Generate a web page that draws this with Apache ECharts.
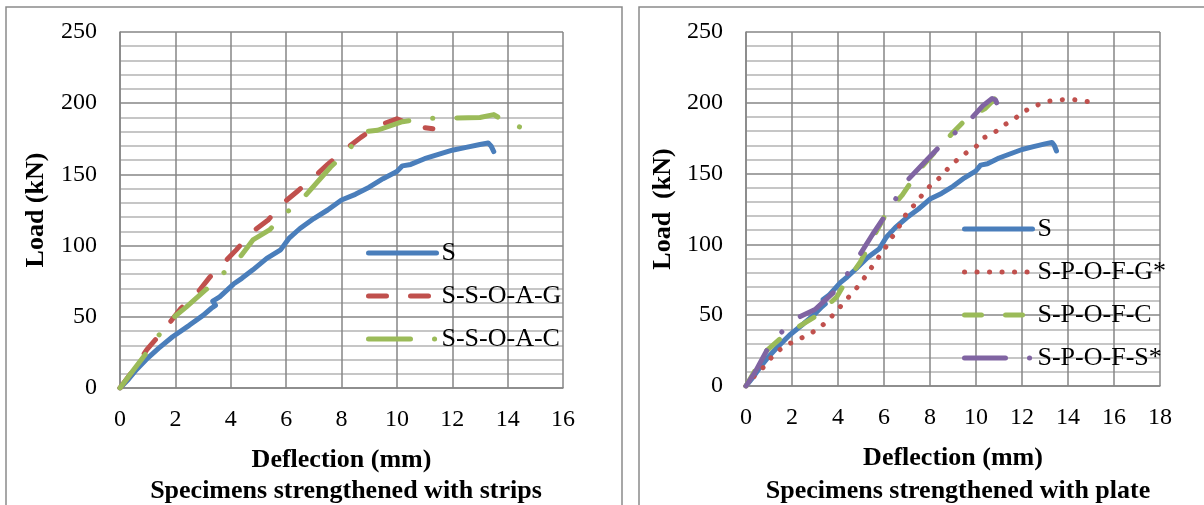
<!DOCTYPE html>
<html>
<head>
<meta charset="utf-8">
<script src="https://cdn.jsdelivr.net/npm/echarts@6/dist/echarts.min.js"></script>
<style>
  html, body { margin: 0; padding: 0; background: #fff; }
  #chart { width: 1204px; height: 505px; }
</style>
</head>
<body>
<div id="chart"></div>
<script>
// deflection (mm), load (kN) pairs
const S = [[0,0],[0.3,6],[0.6,13],[1,21],[1.4,28],[1.9,36],[2.5,44],[3,51],[3.3,56],[3.45,58],[3.35,61],[3.6,64],[4.1,73],[4.4,77],[4.8,83],[5.3,91],[5.8,97],[6.1,105],[6.5,112],[7,119],[7.5,125],[8,132],[8.5,136],[9,141],[9.5,147],[10,152],[10.2,156],[10.5,157],[11,161],[11.5,164],[12,167],[12.5,169],[13,171],[13.3,172],[13.4,170],[13.5,166]];
const SSOAG = [[0,0],[0.5,13],[0.97,27],[1.33,35],[1.8,46],[2.2,56],[2.8,67],[3.25,78],[3.85,90],[4.2,97],[4.8,110],[5.35,118],[5.9,130],[6.4,138],[7,148],[7.5,157],[8.1,167],[8.7,176],[9.3,184],[10,189],[10.6,184],[11.3,182]];
const SSOAC = [[0,0],[0.5,13],[0.97,25],[1.4,37],[1.9,49],[2.4,57],[3.1,69],[3.7,80],[4.3,91],[4.8,104],[5.4,111],[6,123],[6.6,133],[7.6,155],[8.2,166],[8.8,180],[9.3,181],[10.2,187],[11.1,189.5],[11.9,189.5],[13,190],[13.5,192],[14.1,185],[14.9,181],[15.05,178]];
const SPOFG = [[0,0],[0.3,6],[0.74,13],[1.1,20],[1.4,25],[1.9,30],[2.3,33],[2.8,37],[3.2,41],[3.6,47],[3.95,53],[4.3,60],[4.65,66],[5,73],[5.3,80],[5.6,87],[5.9,94],[6.2,101],[6.5,109],[6.8,116],[7,123],[7.4,129],[7.7,136],[8.1,143],[8.5,148],[8.8,154],[9.2,160],[9.6,165],[10,169],[10.3,175],[10.8,179],[11.2,184],[11.7,189],[12.1,194],[12.6,198],[13.1,201],[13.6,202],[14.1,202.5],[14.6,201.5],[15.2,200]];
const SPOFC = [[0,0],[0.9,25],[1.6,35],[2.4,43],[3.1,50],[3.95,63],[4.2,70],[4.95,87],[5.5,104],[6.1,122],[6.8,135],[7.5,152],[8.3,167],[9,179],[9.6,189],[10.4,196],[11,206],[11.7,206]];
const SPOFS = [[0,0],[0.4,10],[0.9,25],[1.6,39],[2.35,49],[3,54],[3.8,66],[4.4,79],[5,94],[5.5,107],[6,119],[6.5,132],[7,145],[7.7,157],[8.35,168],[9.1,179],[9.8,189],[10.3,198],[10.7,203],[10.85,202],[10.9,200]];

const yTicks = [0, 50, 100, 150, 200, 250];
const xMaxLeft = 16;
const xMaxRight = 18;

const FONT = 'Liberation Serif';
const BLUE = '#4a7ebb', RED = '#c0504d', GREEN = '#9bbb59', PURPLE = '#8064a2';

const chart = echarts.init(document.getElementById('chart'));

const mkX = (gi, max) => ({
  type: 'value', gridIndex: gi, min: 0, max: max, interval: 2,
  name: 'Deflection (mm)', nameLocation: 'middle', nameGap: 59,
  nameTextStyle: { fontFamily: FONT, fontWeight: 'bold', fontSize: 26, color: '#000' },
  axisLine: { onZero: false, lineStyle: { color: '#868686', width: 1.5 } },
  axisTick: { show: false },
  axisLabel: { margin: 20, fontFamily: FONT, fontSize: 24, color: '#000' },
  splitLine: { show: true, lineStyle: { color: '#868686', width: 1.5 } }
});
const mkY = (gi, name, gap) => ({
  type: 'value', gridIndex: gi, min: yTicks[0], max: yTicks[yTicks.length - 1], interval: 50,
  name: name, nameLocation: 'middle', nameGap: gap,
  nameTextStyle: { fontFamily: FONT, fontWeight: 'bold', fontSize: 26, color: '#000' },
  axisLine: { show: true, lineStyle: { color: '#868686', width: 1.5 } },
  axisTick: { show: false },
  minorTick: { show: false, splitNumber: 5 },
  axisLabel: { margin: 23, fontFamily: FONT, fontSize: 24, color: '#000' },
  splitLine: { show: true, lineStyle: { color: '#868686', width: 1.5 } },
  minorSplitLine: { show: true, lineStyle: { color: '#c6c6c6', width: 2 } }
});
const mkLine = (name, data, gi, color, dash) => ({
  name: name, type: 'line', xAxisIndex: gi, yAxisIndex: gi, data: data,
  symbol: 'none', showSymbol: false, smooth: false,
  lineStyle: { color: color, width: 5, type: dash, cap: 'round', join: 'round' },
  itemStyle: { color: color },
  emphasis: { disabled: true }
});

const legendBase = {
  orient: 'vertical', itemWidth: 68, itemHeight: 20, itemGap: 17, padding: 0,
  textStyle: { fontFamily: FONT, fontSize: 26, color: '#000' },
  itemStyle: { opacity: 0, borderWidth: 0 },
  lineStyle: { width: 5 }, selectedMode: false
};

const option = {
  animation: false,
  backgroundColor: '#fff',
  title: [
    { text: 'Specimens strengthened with strips', left: 341, top: 473, textAlign: 'center',
      textStyle: { fontFamily: FONT, fontWeight: 'bold', fontSize: 26, color: '#000' } },
    { text: 'Specimens strengthened with plate', left: 953, top: 473, textAlign: 'center',
      textStyle: { fontFamily: FONT, fontWeight: 'bold', fontSize: 26, color: '#000' } }
  ],
  graphic: [
    { type: 'rect', shape: { x: 6, y: 7, width: 616, height: 520 }, silent: true,
      style: { fill: 'none', stroke: '#8a8a8a', lineWidth: 1.5 } },
    { type: 'rect', shape: { x: 639, y: 7, width: 600, height: 520 }, silent: true,
      style: { fill: 'none', stroke: '#8a8a8a', lineWidth: 1.5 } }
  ],
  grid: [
    { left: 120, top: 32, width: 443, height: 356 },
    { left: 746, top: 32, width: 414, height: 354 }
  ],
  xAxis: [mkX(0, xMaxLeft), mkX(1, xMaxRight)],
  yAxis: [mkY(0, 'Load (kN)', 71), mkY(1, 'Load  (kN)', 70)],
  legend: [
    Object.assign({}, legendBase, { left: 366, top: 240, data: ['S', 'S-S-O-A-G', 'S-S-O-A-C'] }),
    Object.assign({}, legendBase, { left: 962, top: 216, data: ['S ', 'S-P-O-F-G*', 'S-P-O-F-C', 'S-P-O-F-S*'] })
  ],
  series: [
    mkLine('S', S, 0, BLUE, 'solid'),
    mkLine('S-S-O-A-G', SSOAG, 0, RED, [18, 24]),
    mkLine('S-S-O-A-C', SSOAC, 0, GREEN, [42, 24, 0.1, 24]),
    mkLine('S ', S, 1, BLUE, 'solid'),
    mkLine('S-P-O-F-G*', SPOFG, 1, RED, [0.1, 12.4]),
    mkLine('S-P-O-F-C', SPOFC, 1, GREEN, [17, 24]),
    mkLine('S-P-O-F-S*', SPOFS, 1, PURPLE, [41, 24, 0.1, 24])
  ]
};
chart.setOption(option);
</script>
</body>
</html>
